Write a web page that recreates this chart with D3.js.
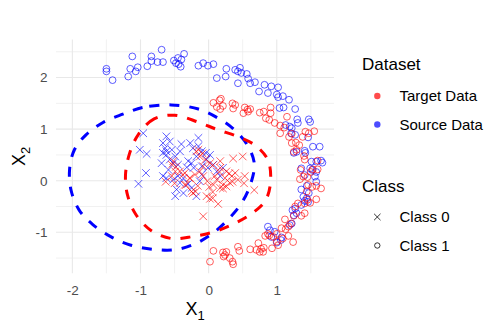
<!DOCTYPE html>
<html lang="en">

<head>
    <title>Source vs Target</title>
    <meta charset="UTF-8">
    <script src="https://cdn.jsdelivr.net/npm/d3@7"></script>
    <style>
        body {
            margin: 0;
            background-color: #ffffff;
        }

        svg text {
            font-family: "Liberation Sans", Arial, sans-serif;
        }
    </style>
</head>

<body>
    <svg id="chart" width="500" height="333"></svg>

    <script>
        // values, [x1, x2]
        const sourceClass1 = [
            [-1.50, 2.17], [-1.50, 2.12], [-1.41, 1.95], [-1.12, 2.41], [-1.15, 2.17], [-1.18, 2.02],
            [-1.04, 2.20], [-1.07, 2.12], [-0.90, 2.22], [-0.84, 2.41], [-0.84, 2.32], [-0.75, 2.30],
            [-0.67, 2.30], [-0.69, 2.54], [-0.51, 2.33], [-0.45, 2.38], [-0.40, 2.35], [-0.36, 2.46],
            [-0.44, 2.26], [-0.41, 2.21], [-0.48, 2.28], [-0.15, 2.23], [-0.08, 2.28], [-0.01, 2.23],
            [0.07, 2.26], [0.12, 1.99], [0.25, 2.02], [0.26, 2.17], [0.39, 2.15], [0.46, 2.19],
            [0.43, 2.12], [0.48, 2.09], [0.56, 2.07], [0.58, 1.98], [0.43, 1.89], [0.61, 1.89],
            [0.68, 1.91], [0.74, 1.73], [0.82, 1.86], [0.87, 1.70], [0.92, 1.83], [1.00, 1.67],
            [1.02, 1.81], [1.02, 1.62], [1.09, 1.64], [1.18, 1.57], [1.04, 1.41], [1.10, 1.42],
            [1.27, 1.39], [1.30, 1.19], [1.31, 1.12], [1.47, 1.19], [1.49, 1.14], [1.13, 1.08],
            [1.19, 1.05], [1.22, 1.02], [1.21, 0.92], [1.27, 0.89], [1.46, 0.84], [1.53, 0.66],
            [1.63, 0.66], [1.41, 0.58], [1.42, 0.54], [1.29, 0.56], [1.25, 0.54], [1.51, 0.37],
            [1.58, 0.37], [1.65, 0.39], [1.67, 0.35], [1.36, 0.24], [1.49, 0.24], [1.52, 0.21],
            [1.58, 0.17], [1.41, 0.11], [1.56, 0.08], [1.58, -0.02], [1.44, -0.10], [1.36, -0.17],
            [1.47, -0.24], [1.39, -0.31], [1.44, -0.34], [1.41, -0.39], [1.46, -0.41], [1.36, -0.47],
            [1.27, -0.54], [1.23, -0.57], [1.29, -0.63], [1.25, -0.67], [1.22, -0.83], [1.19, -0.86],
            [0.87, -0.89], [0.90, -0.96], [0.97, -0.99], [0.92, -1.09], [1.06, -1.15], [1.07, -1.10],
            [1.00, -1.20]
        ];

        const targetClass1 = [
            [0.07, 1.51], [0.16, 1.56], [0.18, 1.59], [0.12, 1.43], [0.17, 1.39], [0.21, 1.45],
            [0.35, 1.50], [0.39, 1.47], [0.36, 1.40], [0.53, 1.42], [0.57, 1.38], [0.61, 1.39],
            [0.51, 1.31], [0.58, 1.34], [0.75, 1.32], [0.81, 1.34], [0.91, 1.42], [0.91, 1.31],
            [0.84, 1.21], [0.89, 1.18], [0.97, 1.12], [1.15, 1.24], [1.05, 1.07], [1.11, 1.03],
            [1.05, 0.92], [1.22, 0.91], [1.42, 0.95], [1.47, 0.92], [1.55, 0.96], [1.18, 0.85],
            [1.38, 0.85], [1.22, 0.73], [1.28, 0.74], [1.33, 0.69], [1.25, 0.56], [1.29, 0.60],
            [1.40, 0.48], [1.41, 0.41], [1.60, 0.39], [1.60, 0.22], [1.53, 0.22], [1.50, 0.17],
            [1.35, 0.21], [1.39, 0.08], [1.45, 0.07], [1.34, 0.03], [1.46, -0.08], [1.58, -0.10],
            [1.65, -0.15], [1.52, -0.12], [1.44, -0.21], [1.45, -0.37], [1.49, -0.43], [1.41, -0.44],
            [1.31, -0.44], [1.27, -0.50], [1.58, -0.36], [1.41, -0.63], [1.36, -0.68], [1.25, -0.68],
            [1.12, -0.75], [1.21, -0.83], [1.17, -0.89], [1.13, -0.94], [1.07, -0.92], [1.00, -1.03],
            [0.87, -1.03], [0.83, -1.07], [1.17, -1.07], [1.24, -1.19], [1.09, -1.12], [0.93, -1.31],
            [0.73, -1.21], [0.70, -1.34], [0.75, -1.38], [0.80, -1.38], [1.02, -1.25], [1.00, -1.18],
            [0.95, -1.09], [0.89, -1.06], [0.07, -1.36], [0.02, -1.57], [0.21, -1.39], [0.24, -1.44],
            [0.26, -1.38], [0.22, -1.47], [0.31, -1.50], [0.35, -1.57], [0.36, -1.62], [0.43, -1.28],
            [0.45, -1.36], [0.61, -1.33], [0.77, -1.32], [0.81, -1.30]
        ];

        const sourceClass0 = [
            [-0.96, 0.92], [-1.01, 0.60], [-0.91, 0.52], [-0.92, 0.15], [-1.03, -0.06], [-0.62, 0.86],
            [-0.67, 0.73], [-0.57, 0.76], [-0.64, 0.63], [-0.54, 0.60], [-0.40, 0.71], [-0.27, 0.73],
            [-0.15, 0.83], [-0.23, 0.63], [-0.15, 0.67], [-0.67, 0.54], [-0.62, 0.50], [-0.49, 0.47],
            [-0.42, 0.57], [-0.57, 0.41], [-0.52, 0.34], [-0.45, 0.31], [-0.69, 0.34], [-0.59, 0.21],
            [-0.67, 0.09], [-0.62, 0.05], [-0.52, 0.02], [-0.45, 0.09], [-0.37, 0.05], [-0.30, 0.38],
            [-0.25, 0.34], [-0.32, 0.26], [-0.22, 0.25], [-0.10, 0.28], [-0.01, 0.25], [-0.03, 0.41],
            [0.07, 0.31], [0.12, 0.18], [-0.04, 0.54], [-0.10, 0.57], [0.02, 0.50], [-0.18, 0.47],
            [-0.42, -0.04], [-0.30, -0.06], [-0.25, -0.14], [-0.47, -0.17], [-0.37, -0.24], [-0.49, -0.30],
            [-0.18, -0.30], [-0.10, 0.12], [-0.13, -0.01], [0.17, 0.09], [0.21, 0.25], [-0.62, 0.57]
        ];

        const targetClass0 = [
            [-0.18, 0.57], [-0.15, 0.60], [-0.13, 0.47], [-0.05, 0.41], [0.02, 0.34], [0.17, 0.38],
            [0.36, 0.43], [0.50, 0.47], [0.17, 0.25], [0.26, 0.18], [0.39, 0.15], [0.53, 0.09],
            [0.43, 0.02], [0.31, -0.04], [0.21, -0.08], [0.12, 0.02], [0.07, -0.08], [-0.02, -0.01],
            [-0.08, 0.09], [-0.13, 0.18], [-0.20, 0.12], [-0.27, 0.05], [-0.35, 0.15], [-0.42, 0.18],
            [-0.35, -0.08], [-0.25, -0.21], [-0.03, -0.30], [0.02, -0.35], [0.14, -0.45], [-0.08, -0.69],
            [-0.49, 0.18], [-0.54, 0.09], [-0.54, 0.31], [-0.52, 0.38], [-0.08, 0.28], [0.09, 0.09],
            [0.24, 0.05], [0.34, 0.09], [0.17, -0.14], [0.26, -0.11], [0.67, -0.18], [0.52, -0.05],
            [0.06, 0.30], [0.16, 0.17], [0.30, 0.14], [0.01, -0.12], [-0.19, -0.21], [0.06, -0.34],
            [-0.38, 0.11], [-0.28, 0.05], [-0.33, -0.08], [-0.23, -0.24], [-0.63, -0.02], [-0.50, -0.05],
            [0.21, -0.15], [-0.09, 0.53], [0.35, -0.02], [0.06, -0.22], [-0.16, -0.10], [-0.48, 0.27]
        ];

        // dashed ellipse outlines
        const sourceEllipse = [
            [-0.55, 1.47], [-0.97, 1.42], [-1.26, 1.29], [-1.55, 1.13], [-1.80, 0.89], [-1.97, 0.60],
            [-2.04, 0.23], [-2.02, -0.18], [-1.90, -0.57], [-1.70, -0.85], [-1.43, -1.09], [-1.14, -1.25],
            [-0.82, -1.33], [-0.50, -1.34], [-0.21, -1.23], [0.06, -1.02], [0.30, -0.73], [0.49, -0.42],
            [0.62, -0.05], [0.67, 0.34], [0.56, 0.71], [0.35, 1.02], [0.13, 1.22], [-0.15, 1.39]
        ];

        const targetEllipse = [
            [-0.50, 1.27], [-0.80, 1.20], [-1.03, 0.90], [-1.16, 0.53], [-1.22, 0.11], [-1.19, -0.28],
            [-1.07, -0.65], [-0.85, -0.96], [-0.55, -1.12], [-0.23, -1.08], [0.08, -0.99], [0.38, -0.83],
            [0.64, -0.63], [0.84, -0.37], [0.91, 0.01], [0.87, 0.40], [0.69, 0.68], [0.42, 0.86],
            [0.13, 0.99], [-0.16, 1.14]
        ];

        const xTicks = [-2, -1, 0, 1];
        const yTicks = [-1, 0, 1, 2];
        const xMinor = [-1.5, -0.5, 0.5, 1.5];
        const yMinor = [-1.5, -0.5, 0.5, 1.5, 2.5];

        const datasets = ["Target Data", "Source Data"];
        const classes = ["Class 0", "Class 1"];

        const svg = d3.select("#chart");

        const panel = { left: 56, right: 334, top: 39.4, bottom: 273.3 };

        const x = d3.scaleLinear().domain([-2.24, 1.84]).range([panel.left, panel.right]);
        const y = d3.scaleLinear().domain([-1.795, 2.74]).range([panel.bottom, panel.top]);
        const color = d3.scaleOrdinal().domain(datasets).range(["#ff0000", "#0000ff"]);

        // grid
        const grid = svg.append("g");
        grid.selectAll("line.minor-x")
            .data(xMinor)
            .join("line")
            .attr("x1", d => x(d)).attr("x2", d => x(d))
            .attr("y1", panel.top).attr("y2", panel.bottom)
            .attr("stroke", "#ededed").attr("stroke-width", 0.8);
        grid.selectAll("line.minor-y")
            .data(yMinor)
            .join("line")
            .attr("x1", panel.left).attr("x2", panel.right)
            .attr("y1", d => y(d)).attr("y2", d => y(d))
            .attr("stroke", "#ededed").attr("stroke-width", 0.8);
        grid.selectAll("line.major-x")
            .data(xTicks)
            .join("line")
            .attr("x1", d => x(d)).attr("x2", d => x(d))
            .attr("y1", panel.top).attr("y2", panel.bottom)
            .attr("stroke", "#e8e8e8").attr("stroke-width", 1.1);
        grid.selectAll("line.major-y")
            .data(yTicks)
            .join("line")
            .attr("x1", panel.left).attr("x2", panel.right)
            .attr("y1", d => y(d)).attr("y2", d => y(d))
            .attr("stroke", "#e8e8e8").attr("stroke-width", 1.1);

        // axes (labels only)
        const xAxis = svg.append("g")
            .attr("transform", `translate(0,${panel.bottom})`)
            .call(d3.axisBottom(x).tickValues(xTicks).tickSize(0).tickPadding(12).tickFormat(d => String(d)));
        const yAxis = svg.append("g")
            .attr("transform", `translate(${panel.left},0)`)
            .call(d3.axisLeft(y).tickValues(yTicks).tickSize(0).tickPadding(8.5).tickFormat(d => String(d)));
        [xAxis, yAxis].forEach(a => {
            a.select(".domain").remove();
            a.selectAll("text")
                .style("font-family", "'Liberation Sans', Arial, sans-serif")
                .style("font-size", "13.5px")
                .attr("fill", "#4d4d4d");
        });

        const crossPath = s => `M${-s},${-s}L${s},${s}M${-s},${s}L${s},${-s}`;

        function drawCircles(data, label) {
            svg.append("g")
                .selectAll("circle")
                .data(data)
                .join("circle")
                .attr("cx", d => x(d[0]))
                .attr("cy", d => y(d[1]))
                .attr("r", 3.4)
                .attr("fill", "none")
                .attr("stroke", color(label))
                .attr("stroke-width", 0.9)
                .attr("stroke-opacity", 0.7);
        }

        function drawCrosses(data, label) {
            svg.append("g")
                .selectAll("path")
                .data(data)
                .join("path")
                .attr("transform", d => `translate(${x(d[0])},${y(d[1])})`)
                .attr("d", crossPath(3.8))
                .attr("fill", "none")
                .attr("stroke", color(label))
                .attr("stroke-width", 0.9)
                .attr("stroke-opacity", 0.7);
        }

        drawCircles(sourceClass1, "Source Data");
        drawCrosses(sourceClass0, "Source Data");
        drawCircles(targetClass1, "Target Data");
        drawCrosses(targetClass0, "Target Data");

        // ellipses
        const ellipseLine = d3.line()
            .x(d => x(d[0]))
            .y(d => y(d[1]))
            .curve(d3.curveCatmullRomClosed);

        [[sourceEllipse, "Source Data"], [targetEllipse, "Target Data"]].forEach(([pts, label]) => {
            svg.append("path")
                .attr("d", ellipseLine(pts))
                .attr("fill", "none")
                .attr("stroke", color(label))
                .attr("stroke-width", 3)
                .attr("stroke-dasharray", "10,10")
                .attr("stroke-linecap", "butt");
        });

        // axis titles
        const xTitle = svg.append("text")
            .attr("x", (panel.left + panel.right) / 2)
            .attr("y", 315)
            .attr("text-anchor", "middle")
            .style("font-size", "18px")
            .attr("fill", "#000");
        xTitle.append("tspan").text("X");
        xTitle.append("tspan").attr("dy", 4.5).style("font-size", "13px").text("1");

        const yTitle = svg.append("text")
            .attr("transform", `translate(25,${(panel.top + panel.bottom) / 2}) rotate(-90)`)
            .attr("text-anchor", "middle")
            .style("font-size", "18px")
            .attr("fill", "#000");
        yTitle.append("tspan").text("X");
        yTitle.append("tspan").attr("dy", 4.5).style("font-size", "13px").text("2");

        // legends
        const legend = svg.append("g");
        const keyX = 377.3;
        const labelX = 399.5;

        legend.append("text").attr("x", 362).attr("y", 69.5)
            .style("font-size", "17px").attr("fill", "#000").text("Dataset");
        datasets.forEach((d, i) => {
            const cy = 96 + i * 28.5;
            legend.append("circle")
                .attr("cx", keyX).attr("cy", cy).attr("r", 3.2)
                .attr("fill", color(d)).attr("fill-opacity", 0.7);
            legend.append("text")
                .attr("x", labelX).attr("y", cy + 5.3)
                .style("font-size", "15px").attr("fill", "#000").text(d);
        });

        legend.append("text").attr("x", 362).attr("y", 192)
            .style("font-size", "17px").attr("fill", "#000").text("Class");
        classes.forEach((d, i) => {
            const cy = 217 + i * 28.5;
            if (i === 0) {
                legend.append("path")
                    .attr("transform", `translate(${keyX},${cy})`)
                    .attr("d", crossPath(3.2))
                    .attr("fill", "none").attr("stroke", "#000").attr("stroke-width", 0.8);
            } else {
                legend.append("circle")
                    .attr("cx", keyX).attr("cy", cy).attr("r", 2.7)
                    .attr("fill", "none").attr("stroke", "#000").attr("stroke-width", 0.8);
            }
            legend.append("text")
                .attr("x", labelX).attr("y", cy + 5.3)
                .style("font-size", "15px").attr("fill", "#000").text(d);
        });
    </script>
</body>

</html>
